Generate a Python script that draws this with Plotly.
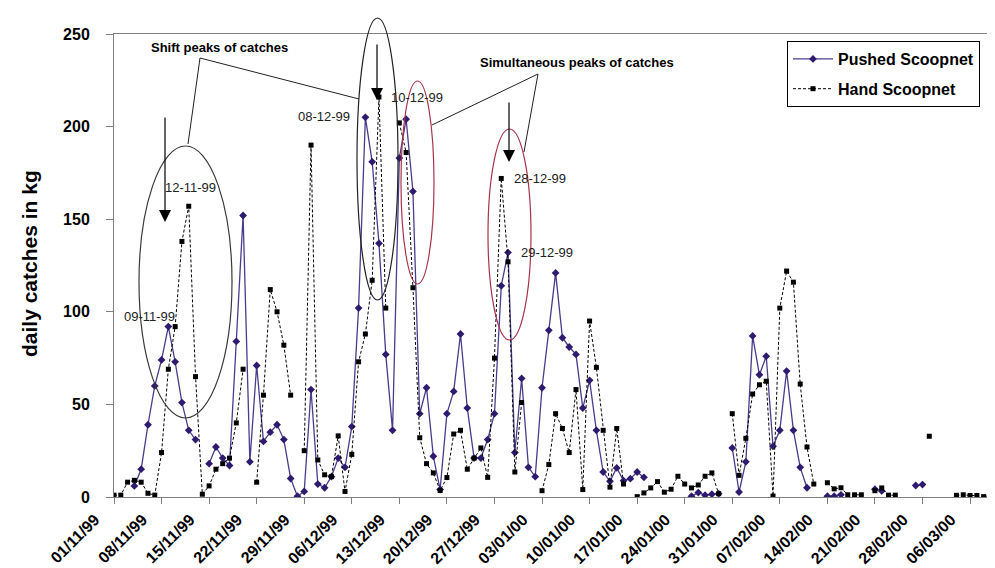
import pandas as pd
import plotly.graph_objects as go

# daily catches (kg), one value per day from 01/11/99; None = no fishing that day
dates = pd.date_range('1999-11-01', periods=130, freq='D')

pushed = [
    None, None, None, 6, 15, 39, 60, 74, 92, 73,
    51, 36, 31, None, 18, 27, 21, 17, 84, 152,
    19, 71, 30, 35, 39, 31, 10, 0.4, 3, 58,
    7, 5, 11, 21, 16, 38, 102, 205, 181, 137,
    77, 36, 183, 204, 165, 45, 59, 22, 4, 45,
    57, 88, 48, 21, 21, 31, 45, 114, 132, 24,
    64, 16, 11, 59, 90, 121, 86, 81, 77, 48,
    63, 36, 13.5, 8.5, 15.7, 8.8, 9.9, 13.5, 10.6, None,
    None, None, None, None, None, 0.4, 2.4, 1, 1.5, 1.8,
    None, 26.5, 2.7, 19, 87, 66, 76, 27.4, 36, 68,
    36, 16, 5, None, None, 0.4, 0.4, 1.2, None, None,
    None, None, 4.2, 3.3, None, None, None, None, 6.2, 6.7,
    None, None, None, None, None, None, None, None, None, None,
]

hand = [
    1, 1, 8, 9, 8, 2, 1, 24, 69, 92,
    138, 157, 65, 1.5, 6, 15, 18, 21, 40, 69,
    None, 8, 55, 112, 100, 82, 55, None, 25, 190,
    20, 12, 11, 33, 3, 23, 73, 88, 117, 216,
    102, None, 202, 186, 113, 32, 18, 13, 3.5, 10.5,
    34, 36, 15, 21, 26.5, 10.6, 75, 172, 127, 13.5,
    51, None, None, 3.4, 17.5, 45, 37, 24, 58, 4,
    95, 70, 36, 5.3, 37, 7, None, 0.2, 2.2, 4.9,
    8.3, 2.6, 4.2, 11.2, 7, 4.9, 6.5, 11.2, 13, 1.8,
    None, 45, 11.7, 31.7, 55.6, 60.6, 62.5, 0.5, 102, 122,
    116, 61, 27, 7, None, 7.7, 4.4, 5, 1.2, 1.2,
    1.2, None, 3.4, 4.9, 1, 1, None, None, None, None,
    32.8, None, None, None, 0.9, 1.2, 0.8, 0.8, 0.2, 0.8,
]

date_labels = ['09-11-99', '12-11-99', '08-12-99', '10-12-99', '28-12-99', '29-12-99']

W, H = 995, 568
L, R, T, B = 106, 0, 26, 79
PW, PH = W - L - R, H - T - B

FONT = 'Liberation Sans, Arial, sans-serif'
PURPLE = '#4a3c8c'
PURPLE_DARK = '#2e1a6e'
RED = '#a8324a'


def px(x):
    return (x - L) / PW


def py(y):
    return (H - B - y) / PH


fig = go.Figure()
fig.add_trace(go.Scatter(
    x=dates, y=pushed, name='Pushed Scoopnet', mode='lines+markers',
    line=dict(color=PURPLE, width=1.3),
    marker=dict(symbol='diamond', size=6, color=PURPLE_DARK),
    connectgaps=False, legendgroup='p'))
fig.add_trace(go.Scatter(
    x=dates, y=hand, name='Hand Scoopnet', mode='lines+markers',
    line=dict(color='black', width=1, dash='3px,2px'),
    marker=dict(symbol='square', size=5, color='black'),
    connectgaps=False, legendgroup='h'))

# ellipses and callout lines, in pixel positions converted to paper
shapes = []
for (x0, x1, y0, y1, c) in [(131, 224, 138, 410, '#3a3a3a'),
                            (349, 390, 10, 292, '#222222'),
                            (393, 426, 73, 276, RED),
                            (480, 523, 121, 332, RED)]:
    shapes.append(dict(type='circle', xref='paper', yref='paper',
                       x0=px(x0), x1=px(x1), y0=py(y1), y1=py(y0),
                       line=dict(color=c, width=1.2)))


def path(pts):
    return 'M ' + ' L '.join('%f,%f' % (px(a), py(b)) for a, b in pts)


for pts in [[(180, 136), (192, 50), (351, 91)],
            [(424, 117), (530, 66), (516, 144)]]:
    shapes.append(dict(type='path', xref='paper', yref='paper', path=path(pts),
                       line=dict(color='#222222', width=1)))

ann = []
label_pos = [(141, 309), (182, 180), (316, 108), (409, 89), (532, 170), (539, 244)]
for t, (x, y) in zip(date_labels, label_pos):
    ann.append(dict(text=t, x=px(x), y=py(y), xref='paper', yref='paper',
                    xanchor='center', yanchor='middle', showarrow=False,
                    font=dict(family=FONT, size=13, color='#222222')))

for t, (x, y) in [('Shift peaks of catches', (211, 40)),
                  ('Simultaneous peaks of catches', (569, 54))]:
    ann.append(dict(text=t, x=px(x), y=py(y), xref='paper', yref='paper',
                    xanchor='center', yanchor='middle', showarrow=False,
                    font=dict(family=FONT, size=13, color='black', weight='bold')))

for (x, ytip, ytail) in [(157, 214, 108), (369, 92, 35), (501, 154, 93)]:
    ann.append(dict(text='', x=px(x), y=py(ytip), xref='paper', yref='paper',
                    ax=0, ay=-(ytip - ytail), showarrow=True, arrowhead=2,
                    arrowsize=2, arrowwidth=1.2, arrowcolor='black'))

ann.append(dict(text='daily catches in kg', x=px(21), y=py(256), xref='paper', yref='paper',
                xanchor='center', yanchor='middle', showarrow=False, textangle=-90,
                font=dict(family=FONT, size=21, color='black', weight='bold')))

fig.update_layout(
    width=W, height=H, margin=dict(l=L, r=R, t=T, b=B),
    paper_bgcolor='white', plot_bgcolor='white',
    font=dict(family=FONT, color='black'),
    shapes=shapes, annotations=ann,
    legend=dict(x=px(779), y=py(33), xanchor='left', yanchor='top',
                bordercolor='black', borderwidth=1, bgcolor='white',
                font=dict(family=FONT, size=16, color='black', weight='bold'),
                tracegroupgap=6, itemwidth=40),
    xaxis=dict(type='date', range=['1999-11-01', '2000-03-10 20:24'],
               tick0='1999-11-01', dtick=7 * 24 * 3600 * 1000, tickformat='%d/%m/%y',
               tickangle=-45, ticks='outside', ticklen=6, tickcolor='#808080',
               ticklabelshift=-19,
               showline=True, linecolor='#808080', linewidth=1, mirror=True,
               showgrid=False, zeroline=False, automargin=False,
               tickfont=dict(family=FONT, size=16, color='black', weight='bold')),
    yaxis=dict(range=[0, 250], dtick=50, ticks='outside', ticklen=7, tickcolor='#808080',
               showline=True, linecolor='#808080', linewidth=1,
               showgrid=False, zeroline=False, automargin=False, ticklabelstandoff=13,
               tickfont=dict(family=FONT, size=16, color='black', weight='bold')),
)

fig.write_html('out.html')
